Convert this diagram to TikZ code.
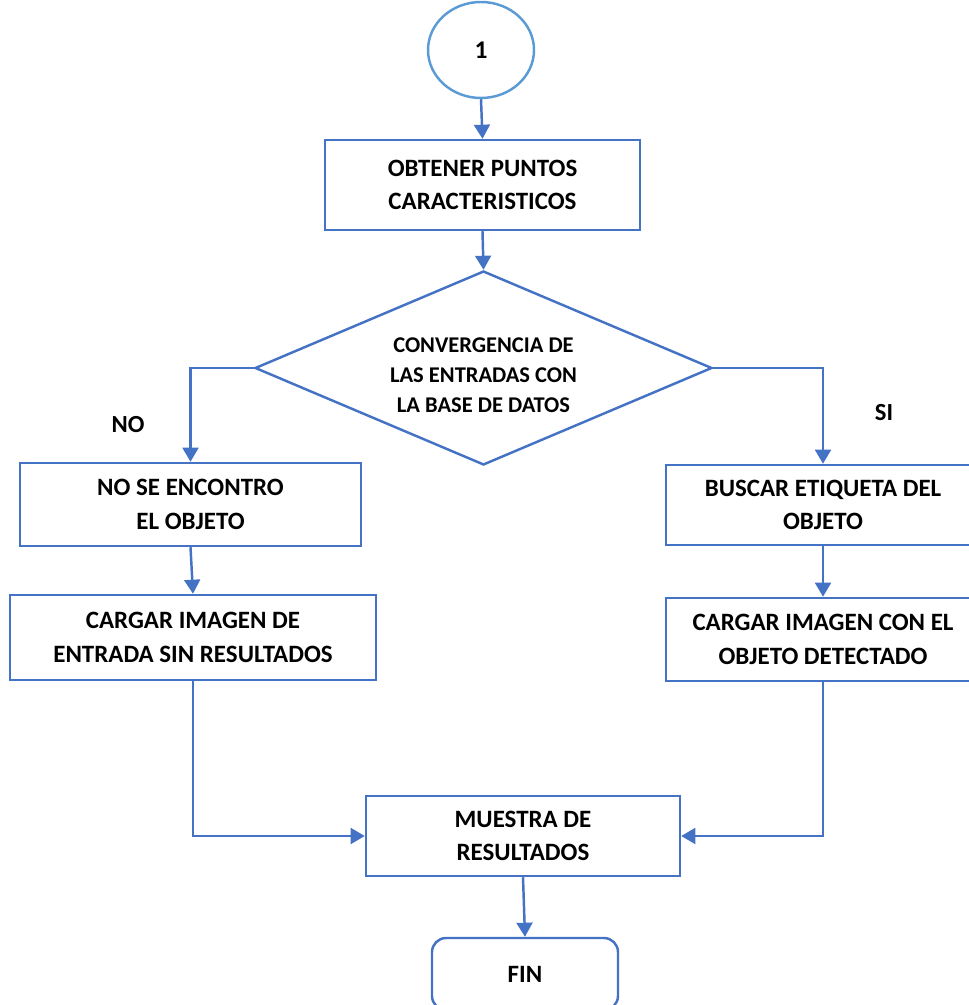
\documentclass[tikz,border=0pt]{standalone}
\usepackage{fontspec}
\setmainfont{Carlito}
\usepackage{xcolor}
\usetikzlibrary{arrows.meta}
\usetikzlibrary{shapes.geometric}
\definecolor{azul}{HTML}{4472C4}
\definecolor{azulclaro}{HTML}{5B9BD5}

\tikzset{
    caja/.style={draw=azul, line width=1.4pt, fill=white, align=center,
        font=\fontsize{14.2}{19}\selectfont\bfseries, inner sep=0pt},
    flecha/.style={draw=azul, line width=1.4pt, -{Triangle[length=8pt,width=9pt]}}
}

\begin{document}
\begin{tikzpicture}
    \useasboundingbox (0,0) rectangle (19.38,-20.1);
    \clip (0,0) rectangle (19.38,-20.1);

    % Conector de inicio
    \node[ellipse, draw=azulclaro, line width=1.4pt, minimum width=2.12cm, minimum height=1.92cm,
        font=\fontsize{14.5}{17}\selectfont\bfseries] (uno) at (9.62,-1.0) {1};

    % Cajas del proceso
    \node[caja, minimum width=6.3cm, minimum height=1.8cm] (obtener) at (9.65,-3.7)
        {OBTENER PUNTOS\\CARACTERISTICOS};

    % Decision
    \node[diamond, draw=azul, line width=1.4pt, aspect=2.36, inner sep=0pt,
        minimum width=9.14cm, minimum height=3.88cm, align=center,
        font=\fontsize{12.8}{17}\selectfont\bfseries] (decision) at (9.67,-7.36)
        {\parbox{4.2cm}{\centering\vspace*{8pt}CONVERGENCIA DE\\LAS ENTRADAS CON\\LA BASE DE DATOS}};

    % Rama NO
    \node[caja, minimum width=6.82cm, minimum height=1.66cm] (noencontro) at (3.81,-10.09)
        {NO SE ENCONTRO\\EL OBJETO};
    \node[caja, minimum width=7.32cm, minimum height=1.7cm] (cargarsin) at (3.86,-12.75)
        {CARGAR IMAGEN DE\\ENTRADA SIN RESULTADOS};

    % Rama SI
    \node[caja, minimum width=6.28cm, minimum height=1.6cm] (buscar) at (16.46,-10.1)
        {BUSCAR ETIQUETA DEL\\OBJETO};
    \node[caja, minimum width=6.28cm, minimum height=1.66cm] (cargarcon) at (16.46,-12.79)
        {CARGAR IMAGEN CON EL\\OBJETO DETECTADO};

    % Resultado y fin
    \node[caja, minimum width=6.28cm, minimum height=1.6cm] (muestra) at (10.46,-16.72)
        {MUESTRA DE\\RESULTADOS};
    \node[caja, rounded corners=8pt, minimum width=3.72cm, minimum height=1.44cm] (fin) at (10.5,-19.48)
        {FIN};

    % Etiquetas de las ramas
    \node[font=\fontsize{14}{17}\selectfont\bfseries] (etqno) at (2.56,-8.5) {NO};
    \node[font=\fontsize{14}{17}\selectfont\bfseries] (etqsi) at (17.68,-8.26) {SI};

    % Flechas
    \draw[flecha] (uno.south) -- (obtener.north);
    \draw[flecha] (obtener.south) -- (decision.north);
    \draw[flecha] (decision.west) -| (noencontro.north);
    \draw[flecha] (decision.east) -| (buscar.north);
    \draw[flecha] (noencontro.south) -- (cargarsin.north);
    \draw[flecha] (buscar.south) -- (cargarcon.north);
    \draw[flecha] (cargarsin.south) |- (muestra.west);
    \draw[flecha] (cargarcon.south) |- (muestra.east);
    \draw[flecha] (muestra.south) -- (fin.north);
\end{tikzpicture}
\end{document}
